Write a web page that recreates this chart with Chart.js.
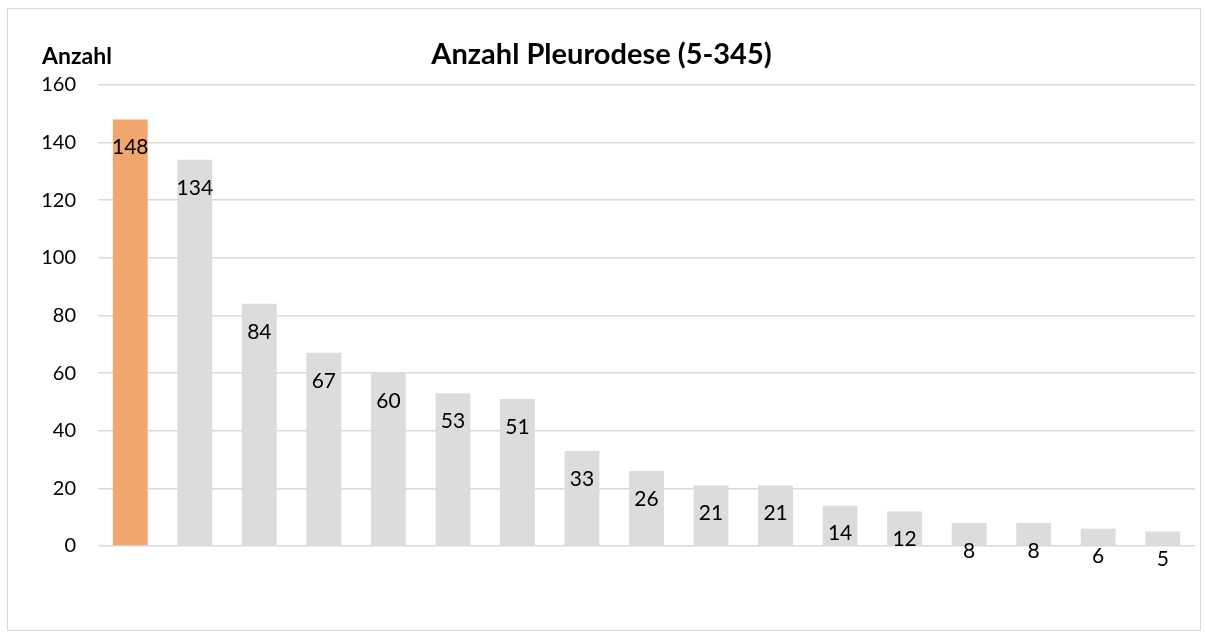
<!DOCTYPE html>
<html>
<head>
<meta charset="utf-8">
<script src="https://cdn.jsdelivr.net/npm/chart.js@4"></script>
<style>
  html, body { margin: 0; padding: 0; background: #fff; }
  #frame {
    position: absolute; left: 7px; top: 8px;
    width: 1194px; height: 623px;
    border: 1.5px solid #d9d9d9; box-sizing: border-box;
  }
  #frame canvas { display: block; }
</style>
</head>
<body>
<div id="frame"><canvas id="chart"></canvas></div>
<script>
// Krankenhaeuser, absteigend sortiert
const categories = ["K1", "K2", "K3", "K4", "K5", "K6", "K7", "K8", "K9",
                    "K10", "K11", "K12", "K13", "K14", "K15", "K16", "K17"];
const anzahl = [148, 134, 84, 67, 60, 53, 51, 33, 26, 21, 21, 14, 12, 8, 8, 6, 5];
const yTicks = [0, 20, 40, 60, 80, 100, 120, 140, 160];

const ORANGE = "#F1A56F";
const GREY = "#DCDCDC";
const FONT = "Lato, Carlito, 'Liberation Sans', sans-serif";

// zahlen in den balken + "Anzahl" oben links
const valueLabels = {
  id: "valueLabels",
  afterDatasetsDraw(chart) {
    const ctx = chart.ctx;
    const meta = chart.getDatasetMeta(0);
    ctx.save();
    ctx.fillStyle = "#000";
    ctx.font = "21px " + FONT;
    ctx.textAlign = "center";
    ctx.textBaseline = "middle";
    meta.data.forEach(function(bar, i) {
      ctx.fillText(String(anzahl[i]), bar.x, bar.y + 28);
    });
    ctx.font = "bold 23px " + FONT;
    ctx.textAlign = "left";
    ctx.fillText("Anzahl", 34, 48);
    ctx.restore();
  }
};

new Chart(document.getElementById("chart"), {
  "type": "bar",
  "data": {
    "labels": categories,
    "datasets": [{
      "label": "Anzahl",
      "data": anzahl,
      "backgroundColor": anzahl.map(function(v, i) { return i === 0 ? ORANGE : GREY; }),
      "borderWidth": 0,
      "barPercentage": 0.54,
      "categoryPercentage": 1.0
    }]
  },
  "options": {
    "responsive": true,
    "maintainAspectRatio": false,
    "animation": false,
    "layout": { "padding": { "left": 0, "right": 5, "top": 0, "bottom": 84 } },
    "plugins": {
      "legend": { "display": false },
      "tooltip": { "enabled": false },
      "title": {
        "display": true,
        "text": "Anzahl Pleurodese (5-345)",
        "color": "#000",
        "font": { "family": FONT, "size": 29, "weight": "bold" },
        "padding": { "top": 28, "bottom": 13 }
      }
    },
    "scales": {
      "x": {
        "display": false,
        "grid": { "display": false }
      },
      "y": {
        "min": 0,
        "max": 160,
        "afterBuildTicks": function(axis) {
          axis.ticks = yTicks.map(function(v) { return { value: v }; });
        },
        "afterFit": function(axis) { axis.width = 90; },
        "border": { "display": false },
        "grid": { "color": "#d9d9d9", "lineWidth": 1.5, "drawTicks": false },
        "ticks": {
          "color": "#000",
          "padding": 22,
          "font": { "family": FONT, "size": 20 }
        }
      }
    }
  },
  "plugins": [valueLabels]
});
</script>
</body>
</html>
